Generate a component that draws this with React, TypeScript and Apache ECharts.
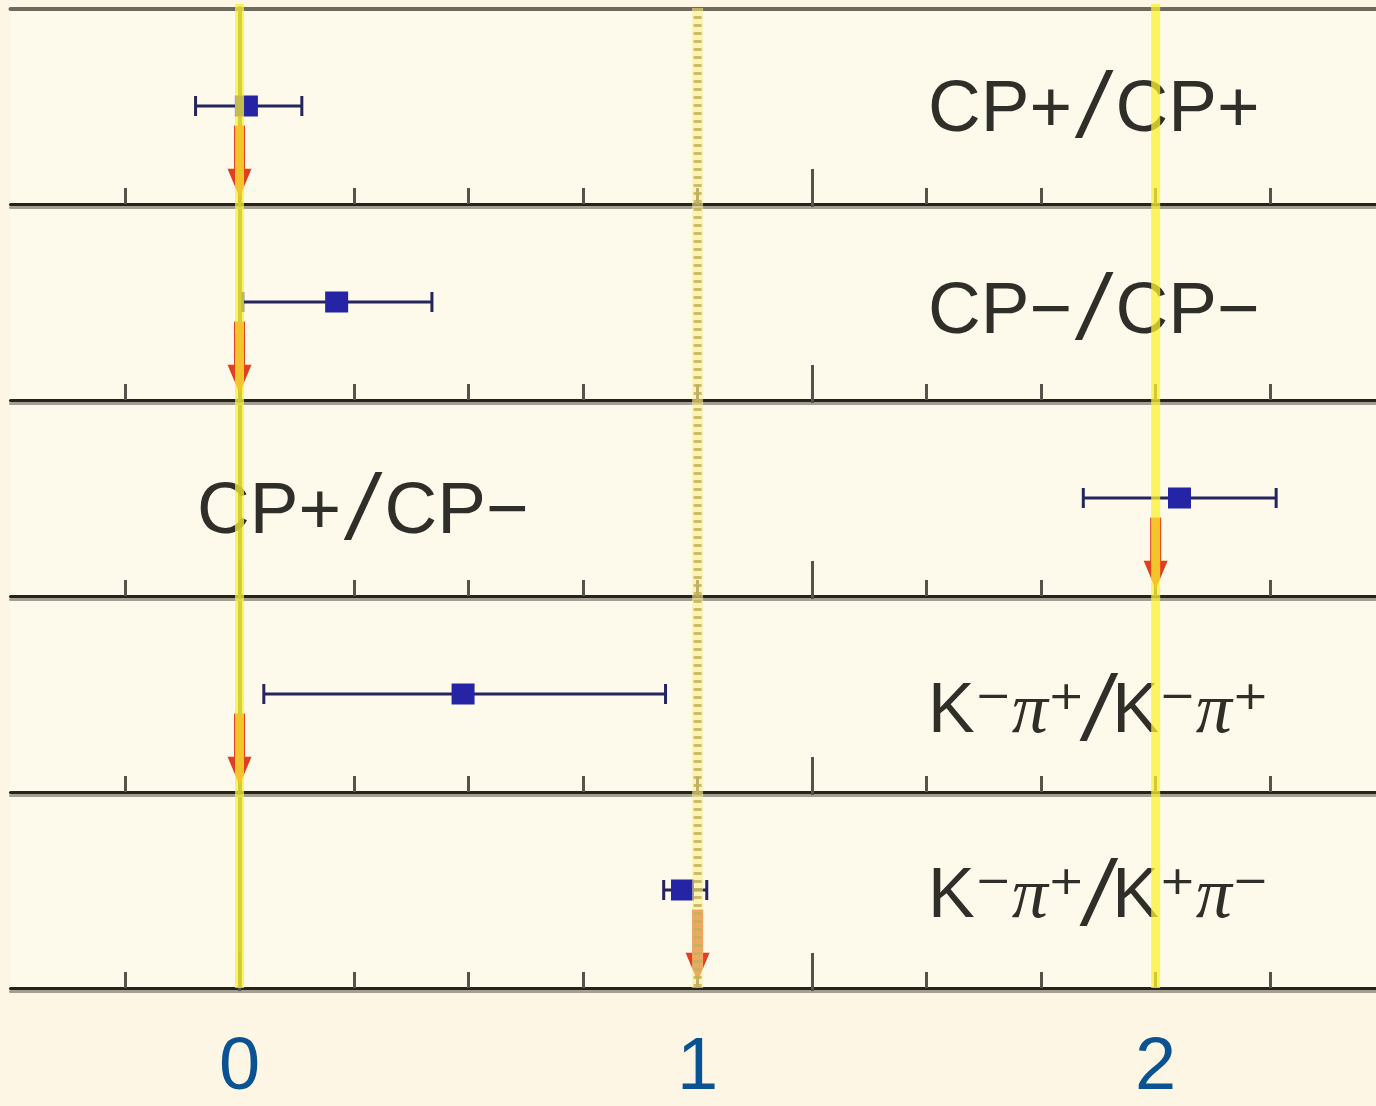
import React, { useEffect, useRef } from "react";
import * as echarts from "echarts";

// ---- data ----
const panelLabels = ["CP+/CP+", "CP−/CP−", "CP+/CP−", "K⁻π⁺/K⁻π⁺", "K⁻π⁺/K⁺π⁻"];
const measuredValues = [0.015, 0.212, 2.052, 0.488, 0.967];
const errorLow = [-0.096, 0.007, 1.842, 0.053, 0.926];
const errorHigh = [0.136, 0.42, 2.263, 0.93, 1.02];
const predictedValues = [0, 0, 2, 0, 1];
const yellowLineValues = [0, 2];
const dottedLineValues = [1];
const tickLabelValues = [0, 1, 2];
const minorTickValues = [-0.25, 0, 0.25, 0.5, 0.75, 1, 1.25, 1.5, 1.75, 2, 2.25];
const majorTickValues = [0, 1.25];
const X_MIN = -0.5;
const X_MAX = 2.481;

// ---- layout / style constants ----
const GRID_LEFT = 10.5;
const PANEL_TOP = 8;
const PANEL_H = 196;
const MARK_Y = 0.5;
const ARROW_TOP = 0.4;
const HEAD_START = 0.18;
const ARROW_TIP = 0.035;
const ARROW_COLOR = "#E0401B";
const TEXT_COLOR = "#2f2e28";
const labelPos = [
  [928, 105],
  [928, 307],
  [197, 507],
  [928, 708],
  [928, 893],
];

function richText(label: string) {
  let out = "";
  let buf = "";
  const flush = () => {
    if (buf) {
      out += `{t|${buf}}`;
      buf = "";
    }
  };
  for (const ch of label) {
    if (ch === "π") {
      flush();
      out += "{p|π}";
    } else if (ch === "/") {
      flush();
      out += "{s|/}";
    } else buf += ch;
  }
  flush();
  return out;
}

const richCP = {
  t: { fontFamily: "Liberation Sans", fontSize: 73, fill: TEXT_COLOR, color: TEXT_COLOR },
  p: { fontFamily: "Liberation Serif", fontStyle: "italic", fontSize: 72, fill: TEXT_COLOR, color: TEXT_COLOR },
  s: { fontFamily: "Liberation Sans", fontStyle: "italic", fontSize: 92, fill: TEXT_COLOR, color: TEXT_COLOR, padding: [0, 10, 0, 8] },
};
const richK = {
  t: { fontFamily: "Liberation Sans, DejaVu Sans", fontSize: 70, fill: TEXT_COLOR, color: TEXT_COLOR },
  p: { fontFamily: "Liberation Serif", fontStyle: "italic", fontSize: 72, fill: TEXT_COLOR, color: TEXT_COLOR },
  s: { fontFamily: "Liberation Sans", fontStyle: "italic", fontSize: 92, fill: TEXT_COLOR, color: TEXT_COLOR, padding: [0, 2, 0, 0] },
};

const axisBase = {
  type: "value",
  min: X_MIN,
  max: X_MAX,
  axisLabel: { show: false },
  splitLine: { show: false },
};

function buildOption() {
  const grids: any[] = [];
  const xAxes: any[] = [];
  const yAxes: any[] = [];
  const series: any[] = [];

  for (let i = 0; i < 5; i++) {
    grids.push({
      left: GRID_LEFT,
      right: 0,
      top: PANEL_TOP + PANEL_H * i,
      height: PANEL_H,
      show: true,
      backgroundColor: "#FEFAEB",
      borderWidth: 0,
      outerBoundsMode: "none",
    });
    // minor ticks + black baseline
    xAxes.push({
      ...axisBase,
      gridIndex: i,
      position: "bottom",
      axisLine: { show: true, lineStyle: { color: "#28231a", width: 3 } },
      axisTick: { show: true, inside: true, length: 16, customValues: minorTickValues, lineStyle: { color: "#57534a", width: 3 } },
    });
    // major ticks + grey shadow line
    xAxes.push({
      ...axisBase,
      gridIndex: i,
      position: "bottom",
      offset: 3,
      axisLine: { show: true, lineStyle: { color: "#a29e92", width: 3 } },
      axisTick: { show: true, inside: true, length: 38, customValues: majorTickValues, lineStyle: { color: "#57534a", width: 3 } },
    });
    yAxes.push({
      type: "value",
      gridIndex: i,
      min: 0,
      max: 1,
      offset: -3,
      axisLine: { show: true, lineStyle: { color: "#716d62", width: 4 } },
      axisTick: { show: false },
      axisLabel: { show: false },
      splitLine: { show: false },
    });
    const xi = 2 * i;
    series.push({
      type: "custom",
      name: "predicted " + i,
      xAxisIndex: xi,
      yAxisIndex: i,
      z: 2,
      silent: true,
      data: [[predictedValues[i], 0]],
      renderItem: (params: any, api: any) => {
        const x = api.value(0);
        const p0 = api.coord([x, ARROW_TOP]);
        const p1 = api.coord([x, HEAD_START]);
        const p2 = api.coord([x, ARROW_TIP]);
        return {
          type: "group",
          children: [
            { type: "rect", shape: { x: p0[0] - 5.5, y: p0[1], width: 11, height: p1[1] - p0[1] + 1 }, style: { fill: ARROW_COLOR } },
            {
              type: "polygon",
              shape: { points: [[p1[0] - 12, p1[1]], [p1[0] + 12, p1[1]], [p2[0], p2[1]]] },
              style: { fill: ARROW_COLOR },
            },
          ],
        };
      },
    });
    series.push({
      type: "custom",
      name: "error " + i,
      xAxisIndex: xi,
      yAxisIndex: i,
      z: 3,
      silent: true,
      encode: { x: [0, 1], y: 2 },
      data: [[errorLow[i], errorHigh[i], MARK_Y]],
      renderItem: (params: any, api: any) => {
        const a = api.coord([api.value(0), api.value(2)]);
        const b = api.coord([api.value(1), api.value(2)]);
        const st = { stroke: "#24245e", lineWidth: 3 };
        return {
          type: "group",
          children: [
            { type: "line", shape: { x1: a[0], y1: a[1], x2: b[0], y2: b[1] }, style: st },
            { type: "line", shape: { x1: a[0], y1: a[1] - 10, x2: a[0], y2: a[1] + 10 }, style: st },
            { type: "line", shape: { x1: b[0], y1: b[1] - 10, x2: b[0], y2: b[1] + 10 }, style: st },
          ],
        };
      },
    });
    series.push({
      type: "scatter",
      name: "measured " + i,
      xAxisIndex: xi,
      yAxisIndex: i,
      z: 4,
      silent: true,
      symbol: "rect",
      symbolSize: [23, 21],
      itemStyle: { color: "#2424A4", opacity: 1 },
      data: [[measuredValues[i], MARK_Y]],
    });
  }

  // top frame line
  xAxes.push({
    ...axisBase,
    gridIndex: 0,
    position: "top",
    offset: -1,
    axisLine: { show: true, lineStyle: { color: "#6d695e", width: 4 } },
    axisTick: { show: false },
  });

  // overlay grid spanning all panels: reference lines + tick labels
  grids.push({ left: GRID_LEFT, right: 0, top: 4, height: 984, show: false, outerBoundsMode: "none" });
  const ovX = xAxes.length;
  xAxes.push({
    type: "value",
    gridIndex: 5,
    min: X_MIN,
    max: X_MAX,
    interval: 0.5,
    position: "bottom",
    axisLine: { show: false },
    axisTick: { show: false },
    splitLine: { show: false },
    axisLabel: {
      show: true,
      margin: 75,
      verticalAlign: "middle",
      fontFamily: "Liberation Sans",
      fontSize: 74,
      lineHeight: 80,
      color: "#0B5292",
      showMinLabel: false,
      showMaxLabel: false,
      formatter: (v: number) => (tickLabelValues.includes(v) ? String(v) : ""),
    },
  });
  const ovY = yAxes.length;
  yAxes.push({ type: "value", gridIndex: 5, min: 0, max: 1, show: false });

  series.push({
    type: "custom",
    name: "dotted",
    xAxisIndex: ovX,
    yAxisIndex: ovY,
    z: 6,
    silent: true,
    data: dottedLineValues.map((v) => [v, 0]),
    renderItem: (params: any, api: any) => {
      const x = api.value(0);
      const a = api.coord([x, 0.996]);
      const b = api.coord([x, 0]);
      return {
        type: "group",
        children: [
          { type: "line", shape: { x1: a[0], y1: a[1], x2: b[0], y2: b[1] }, style: { stroke: "rgba(248,238,150,0.6)", lineWidth: 11 } },
          { type: "line", shape: { x1: a[0], y1: a[1], x2: b[0], y2: b[1] }, style: { stroke: "rgba(196,176,88,0.85)", lineWidth: 8, lineDash: [3, 5] } },
        ],
      };
    },
  });
  series.push({
    type: "custom",
    name: "yellow",
    xAxisIndex: ovX,
    yAxisIndex: ovY,
    z: 7,
    silent: true,
    data: yellowLineValues.map((v) => [v, 0]),
    renderItem: (params: any, api: any) => {
      const x = api.value(0);
      const a = api.coord([x, 1]);
      const b = api.coord([x, 0]);
      return { type: "line", shape: { x1: a[0], y1: a[1], x2: b[0], y2: b[1] }, style: { stroke: "rgba(250,240,50,0.75)", lineWidth: 9 } };
    },
  });

  const graphic = panelLabels.map((lab, i) => ({
    type: "text",
    z: 1,
    silent: true,
    style: {
      text: richText(lab),
      x: labelPos[i][0],
      y: labelPos[i][1],
      textAlign: "left",
      textVerticalAlign: "middle",
      fill: TEXT_COLOR,
      rich: lab.includes("K") ? richK : richCP,
    },
  }));

  return {
    animation: false,
    backgroundColor: "#FDF6E5",
    grid: grids,
    xAxis: xAxes,
    yAxis: yAxes,
    series,
    graphic,
  };
}

export default function App() {
  const ref = useRef<HTMLDivElement>(null);
  useEffect(() => {
    if (!ref.current) return;
    const chart = echarts.init(ref.current, undefined, { renderer: "svg" });
    chart.setOption(buildOption() as any);
    return () => chart.dispose();
  }, []);
  return <div ref={ref} style={{ position: "absolute", left: 0, top: 0, width: 1376, height: 1106 }} />;
}
